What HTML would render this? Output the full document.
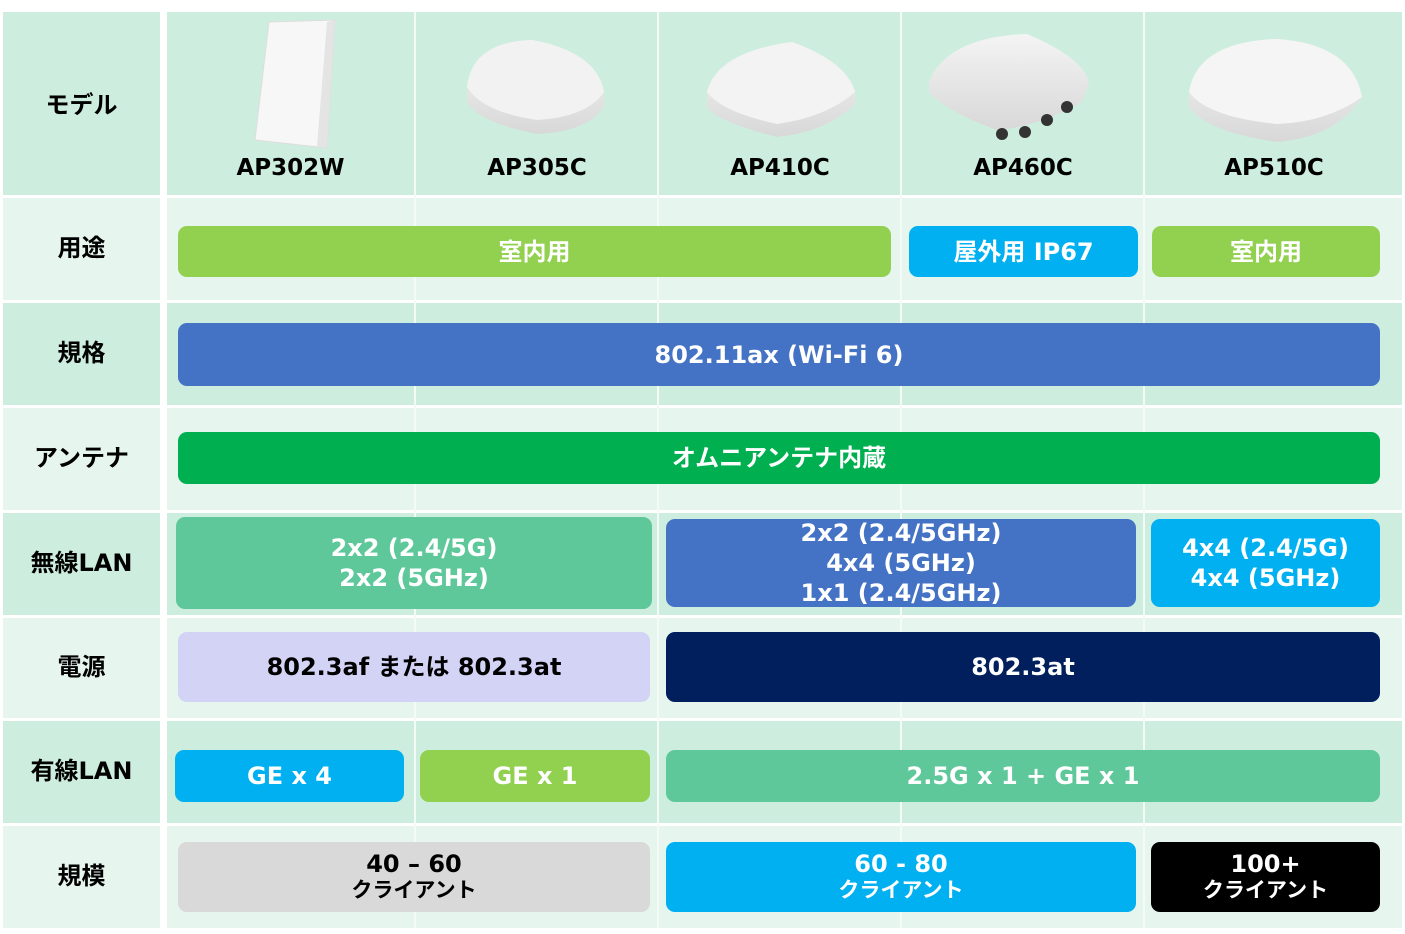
<!DOCTYPE html>
<html><head><meta charset="utf-8"><style>
body{margin:0;width:1405px;height:934px;background:#fff;position:relative;overflow:hidden;font-family:"DejaVu Sans","Noto Sans CJK JP",sans-serif;font-weight:bold}
.c{position:absolute}
.d{background:#cdeedf}.l{background:#e6f5ee}
.lab{position:absolute;left:3px;width:157px;display:flex;align-items:center;justify-content:center;font-size:24px;color:#000}
.b{position:absolute;border-radius:9px;display:flex;align-items:center;justify-content:center;text-align:center;color:#fff;font-size:24px;line-height:30px}
.m{position:absolute;top:155px;font-size:23px;text-align:center;color:#000}
.s{font-size:21px;font-weight:bold;display:block;line-height:26px}
</style></head><body>
<div class="c d" style="left:3px;top:12px;width:157px;height:183px"></div>
<div class="c d" style="left:167px;top:12px;width:1235px;height:183px"></div>
<div class="c l" style="left:3px;top:198px;width:157px;height:102px"></div>
<div class="c l" style="left:167px;top:198px;width:1235px;height:102px"></div>
<div class="c d" style="left:3px;top:303px;width:157px;height:102px"></div>
<div class="c d" style="left:167px;top:303px;width:1235px;height:102px"></div>
<div class="c l" style="left:3px;top:408px;width:157px;height:102px"></div>
<div class="c l" style="left:167px;top:408px;width:1235px;height:102px"></div>
<div class="c d" style="left:3px;top:513px;width:157px;height:102px"></div>
<div class="c d" style="left:167px;top:513px;width:1235px;height:102px"></div>
<div class="c l" style="left:3px;top:618px;width:157px;height:100px"></div>
<div class="c l" style="left:167px;top:618px;width:1235px;height:100px"></div>
<div class="c d" style="left:3px;top:721px;width:157px;height:102px"></div>
<div class="c d" style="left:167px;top:721px;width:1235px;height:102px"></div>
<div class="c l" style="left:3px;top:826px;width:157px;height:102px"></div>
<div class="c l" style="left:167px;top:826px;width:1235px;height:102px"></div>
<div class="c" style="left:414px;top:12px;width:2px;height:916px;background:#f4fbf7"></div>
<div class="c" style="left:657px;top:12px;width:2px;height:916px;background:#f4fbf7"></div>
<div class="c" style="left:900px;top:12px;width:2px;height:916px;background:#f4fbf7"></div>
<div class="c" style="left:1143px;top:12px;width:2px;height:916px;background:#f4fbf7"></div>

<div class="lab" style="top:12px;height:180px">モデル</div>
<div class="lab" style="top:198px;height:95px">用途</div>
<div class="lab" style="top:303px;height:95px">規格</div>
<div class="lab" style="top:408px;height:95px">アンテナ</div>
<div class="lab" style="top:513px;height:95px">無線LAN</div>
<div class="lab" style="top:618px;height:93px">電源</div>
<div class="lab" style="top:721px;height:95px">有線LAN</div>
<div class="lab" style="top:826px;height:95px">規模</div>

<svg class="c" style="left:167px;top:12px" width="1235" height="140">
<defs><linearGradient id="g" x1="0" y1="0" x2="0" y2="1"><stop offset="0" stop-color="#f4f4f4"/><stop offset="1" stop-color="#d8d8d8"/></linearGradient></defs>
<polygon points="102,10 168,8 160,136 88,128" fill="#f7f7f7" stroke="#ddd"/>
<polygon points="160,10 168,8 160,136 150,134" fill="#e4e4e4"/>
<path d="M300,75 Q305,30 365,28 Q430,40 437,80 L437,95 Q420,120 370,122 Q310,110 300,90Z" fill="url(#g)"/>
<path d="M300,75 Q305,30 365,28 Q430,40 437,80 Q420,105 370,108 Q315,100 300,75Z" fill="#f2f2f2"/>
<path d="M540,80 Q550,40 625,30 Q680,50 688,80 L688,92 Q660,120 610,125 Q550,110 540,95Z" fill="url(#g)"/>
<path d="M540,80 Q550,40 625,30 Q680,50 688,80 Q660,105 610,112 Q555,100 540,80Z" fill="#f3f3f3"/>
<path d="M762,70 Q780,25 860,22 Q915,45 922,70 L915,90 Q870,115 830,118 Q780,100 762,80Z" fill="url(#g)"/>
<circle cx="835" cy="122" r="6" fill="#333"/><circle cx="858" cy="120" r="6" fill="#333"/><circle cx="880" cy="108" r="6" fill="#333"/><circle cx="900" cy="95" r="6" fill="#333"/>
<path d="M1022,80 Q1030,30 1110,27 Q1185,32 1195,85 Q1170,125 1110,130 Q1040,120 1022,95Z" fill="url(#g)"/>
<path d="M1022,80 Q1030,30 1110,27 Q1185,32 1195,85 Q1160,110 1110,112 Q1040,105 1022,80Z" fill="#f5f5f5"/>
</svg>
<div class="m" style="left:167px;width:247px">AP302W</div>
<div class="m" style="left:417px;width:240px">AP305C</div>
<div class="m" style="left:660px;width:240px">AP410C</div>
<div class="m" style="left:903px;width:240px">AP460C</div>
<div class="m" style="left:1146px;width:256px">AP510C</div>

<div class="b" style="left:178px;top:226px;width:713px;height:51px;background:#92d050">室内用</div>
<div class="b" style="left:909px;top:226px;width:229px;height:51px;background:#00b0f0">屋外用 IP67</div>
<div class="b" style="left:1152px;top:226px;width:228px;height:51px;background:#92d050">室内用</div>

<div class="b" style="left:178px;top:323px;width:1202px;height:63px;background:#4472c4">802.11ax (Wi-Fi 6)</div>
<div class="b" style="left:178px;top:432px;width:1202px;height:52px;background:#00b050">オムニアンテナ内蔵</div>

<div class="b" style="left:176px;top:517px;width:476px;height:92px;background:#5ec89a"><div>2x2 (2.4/5G)<br>2x2 (5GHz)</div></div>
<div class="b" style="left:666px;top:519px;width:470px;height:88px;background:#4472c4"><div>2x2 (2.4/5GHz)<br>4x4 (5GHz)<br>1x1 (2.4/5GHz)</div></div>
<div class="b" style="left:1151px;top:519px;width:229px;height:88px;background:#00b0f0"><div>4x4 (2.4/5G)<br>4x4 (5GHz)</div></div>

<div class="b" style="left:178px;top:632px;width:472px;height:70px;background:#d3d3f5;color:#000">802.3af または 802.3at</div>
<div class="b" style="left:666px;top:632px;width:714px;height:70px;background:#001f5c">802.3at</div>

<div class="b" style="left:175px;top:750px;width:229px;height:52px;background:#00b0f0">GE x 4</div>
<div class="b" style="left:420px;top:750px;width:230px;height:52px;background:#92d050">GE x 1</div>
<div class="b" style="left:666px;top:750px;width:714px;height:52px;background:#5ec89a">2.5G x 1 + GE x 1</div>

<div class="b" style="left:178px;top:842px;width:472px;height:70px;background:#d9d9d9;color:#000"><div style="line-height:26px">40 – 60<span class="s">クライアント</span></div></div>
<div class="b" style="left:666px;top:842px;width:470px;height:70px;background:#00b0f0"><div style="line-height:26px">60 - 80<span class="s">クライアント</span></div></div>
<div class="b" style="left:1151px;top:842px;width:229px;height:70px;background:#000"><div style="line-height:26px">100+<span class="s">クライアント</span></div></div>
</body></html>
